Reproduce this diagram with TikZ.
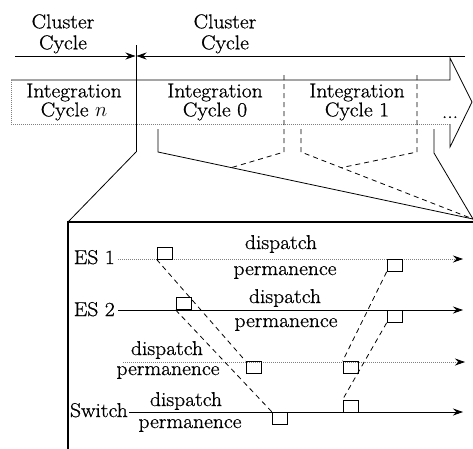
\documentclass[tikz,border=0pt]{standalone}
\usepackage{fontspec}
\setmainfont{Latin Modern Roman}[FakeStretch=1.08,FakeBold=0.8]
\usetikzlibrary{arrows.meta,calc}
\lineskiplimit=-30pt
\begin{document}
\begin{tikzpicture}[x=1pt,y=-1pt,
  cc/.style={font=\fontsize{20}{21}\selectfont, inner sep=0pt, align=center},
  ic/.style={font=\fontsize{20}{19}\selectfont, inner sep=0pt, align=center},
  lbl/.style={font=\fontsize{20}{20}\selectfont, inner sep=0pt},
  sq/.style={draw, line width=0.8pt, minimum width=15pt, minimum height=12pt, inner sep=0pt},
  solidln/.style={line width=0.8pt},
  dotln/.style={line width=0.8pt, gray, dash pattern=on 1pt off 1pt},
  dashln/.style={line width=0.8pt, dash pattern=on 5pt off 4pt},
  tip/.style={-{Stealth[length=10pt,width=7pt,black]}},
]
\useasboundingbox (0,0) rectangle (473,448);

% cluster cycle labels
\node[cc, anchor=north] (cc1) at (63,14.1) {Cluster\\Cycle};
\node[cc, anchor=north] (cc2) at (225,14.1) {Cluster\\Cycle};

% top arrows and divider
\coordinate (divtop) at (136,45);
\coordinate (divbot) at (136,152);
\coordinate (la) at (15,56);
\coordinate (lb) at (135.5,56);
\coordinate (ra) at (465,56);
\coordinate (rb) at (136.5,56);
\draw[solidln, tip] (la) -- (lb);
\draw[solidln, tip] (ra) -- (rb);
\draw[solidln] (divtop) -- (divbot);

% integration band (big arrow)
\coordinate (b1) at (11,80);
\coordinate (b2) at (450,80);
\coordinate (b3) at (450,58);
\coordinate (b4) at (472,102);
\coordinate (b5) at (450,147);
\coordinate (b6) at (450,124);
\coordinate (b7) at (11,124);
\draw[solidln] (b1) -- (b2) -- (b3) -- (b4) -- (b5) -- (b6);
\draw[dotln] (b6) -- (b7) -- (b1);

\node[ic, anchor=north] (icn) at (74,83.5) {Integration\\Cycle $n$};
\node[ic, anchor=north] (ic0) at (215,83.5) {Integration\\Cycle 0};
\node[ic, anchor=north] (ic1) at (357,83.5) {Integration\\Cycle 1};
\node[lbl, anchor=base] (dots) at (450,118) {...};

% dashed dividers
\coordinate (d0top) at (284,75);
\coordinate (d0bot) at (284,152);
\coordinate (d1top) at (417,75);
\coordinate (d1bot) at (417,152);

% funnel
\coordinate (f0top) at (158,129);
\coordinate (f0bot) at (158,152);
\coordinate (g0top) at (301,129);
\coordinate (g0bot) at (301,152);
\coordinate (f1top) at (434,129);
\coordinate (f1bot) at (434,153);
\coordinate (conv) at (473,219);
\draw[solidln] (f0top) -- (f0bot) -- (conv);
\draw[dashln] (g0top) -- (g0bot) -- (conv);
\draw[solidln] (f1top) -- (f1bot) -- (conv);
\draw[dashln] (d0top) -- (d0bot) -- ($(f0bot)!0.233!(conv)$);
\draw[dashln] (d1top) -- (d1bot) -- ($(g0bot)!0.234!(conv)$);

% zoom box
\coordinate (bx) at (68,222);
\coordinate (bxr) at (474,222);
\coordinate (bxb) at (68,449);
\draw[solidln] (divbot) -- (bx);
\draw[line width=1.1pt] (bxb) -- (bx) -- (bxr);

% time lines
\node[lbl, anchor=base east, inner xsep=3pt] (es1) at (118,264) {ES 1};
\node[lbl, anchor=base east, inner xsep=3pt] (es2) at (118,316) {ES 2};
\node[lbl, anchor=base east, inner xsep=1pt] (sw) at (129,417) {Switch};
\coordinate (e1) at (463,259);
\coordinate (e2) at (463,310);
\coordinate (l3s) at (123,362);
\coordinate (e3) at (465,362);
\coordinate (e4) at (463,412);
\draw[dotln, tip] (es1.east |- e1) -- (e1);
\draw[solidln, tip] (es2.east |- e2) -- (e2);
\draw[dotln, tip] (l3s) -- (e3);
\draw[solidln, tip] (sw.east |- e4) -- (e4);

\node[lbl, anchor=base] (dp1) at (281,249) {dispatch};
\node[lbl, anchor=base] (pm1) at (285,275) {permanence};
\node[lbl, anchor=base] (dp2) at (285,303) {dispatch};
\node[lbl, anchor=base] (pm2) at (286,327) {permanence};
\node[lbl, anchor=base] (dp3) at (167,355) {dispatch};
\node[lbl, anchor=base] (pm3) at (168,375) {permanence};
\node[lbl, anchor=base] (dp4) at (186,406) {dispatch};
\node[lbl, anchor=base] (pm4) at (190,428) {permanence};

% frames
\node[sq] (s1a) at (164.5,253) {};
\node[sq] (s1b) at (394.5,265.5) {};
\node[sq] (s2a) at (183.5,303.5) {};
\node[sq] (s2b) at (394.5,316.5) {};
\node[sq] (s3a) at (253.5,367.5) {};
\node[sq] (s3b) at (350.5,367.5) {};
\node[sq] (s4a) at (280,418.5) {};
\node[sq] (s4b) at (350.5,406) {};

\draw[dashln] (s1a.south west) -- (s3a.north west);
\draw[dashln] (s2a.south west) -- (s4a.north west);
\draw[dashln] (s1b.south west) -- (s3b.north west);
\draw[dashln] (s2b.south west) -- (s4b.north west);
\end{tikzpicture}
\end{document}
